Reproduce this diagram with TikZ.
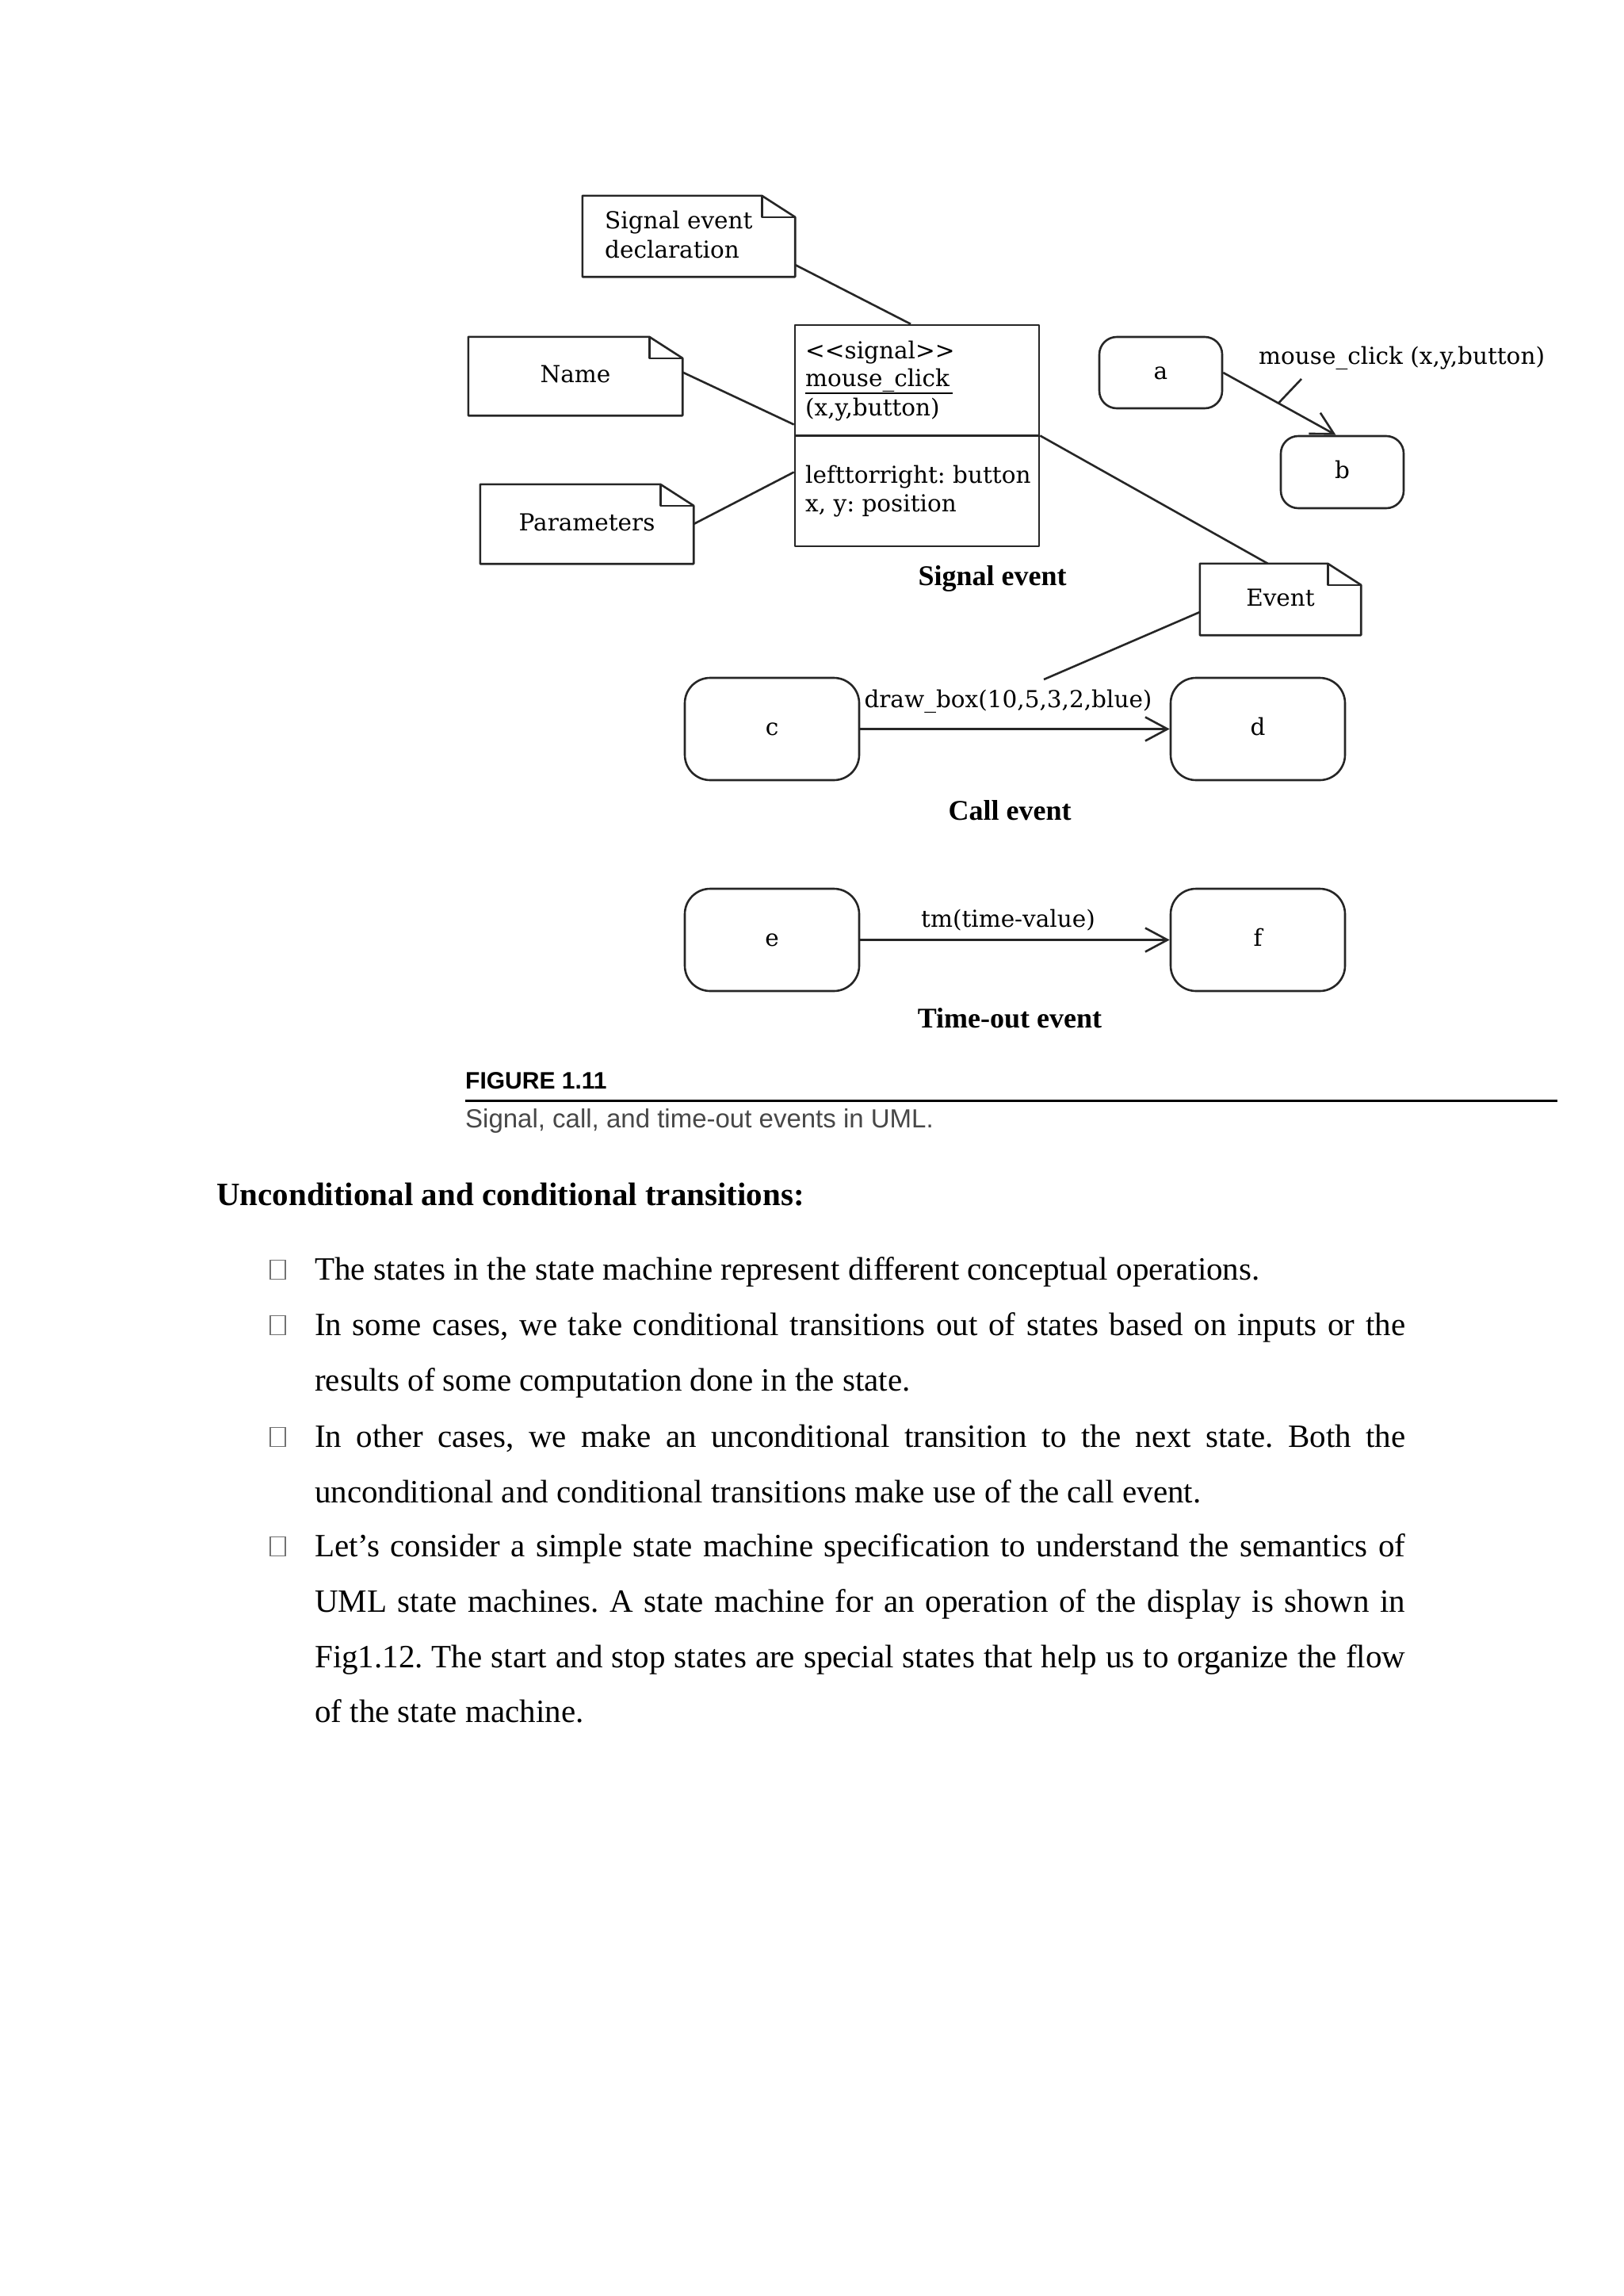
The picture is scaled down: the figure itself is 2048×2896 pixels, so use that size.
\documentclass[tikz,border=0pt]{standalone}
\usepackage{fontspec}
\setmainfont{Liberation Serif}
\newfontfamily\capsans{Liberation Sans}
\newfontfamily\diagfont{DejaVu Serif}
\usetikzlibrary{arrows.meta}
\newcommand\umlnote[1]{%
  \draw[ln] ([xshift=-42pt]#1.north east) -- (#1.north west) -- (#1.south west) -- (#1.south east) -- ([yshift=-27pt]#1.north east) -- cycle;
  \draw[ln] ([xshift=-42pt]#1.north east) -- ([xshift=-42pt,yshift=-27pt]#1.north east) -- ([yshift=-27pt]#1.north east);}
\begin{document}
\frenchspacing
\begin{tikzpicture}[x=1pt,y=-1pt,
  ln/.style={draw=black!85,line width=2.6pt,line join=round},
  dfont/.style={font=\diagfont\fontsize{29.5}{36}\selectfont},
  txt/.style={inner sep=0pt,text height=22pt,text depth=6pt,dfont},
  notebox/.style={rectangle,inner sep=0pt,draw=none,txt},
  state/.style={rectangle,rounded corners=22pt,ln,inner sep=0pt,txt},
  bigstate/.style={state,rounded corners=32pt,minimum width=220pt,minimum height=129pt},
  arr/.style={ln,-{Straight Barb[length=28pt,width=30pt]}},
  capt/.style={inner sep=0pt,text height=25pt,text depth=8pt,font=\fontsize{36}{42}\selectfont\bfseries},
  body/.style={inner sep=0pt,anchor=base west,font=\fontsize{41}{48}\selectfont},
  bul/.style={draw=black!55,line width=1.5pt,minimum width=19pt,minimum height=24pt,inner sep=0pt,anchor=south west}
]
\useasboundingbox[fill=white] (0,0) rectangle (2048,2896);

% ---- notes
\node[notebox,minimum width=268pt,minimum height=102pt] (decl) at (869,298) {};
\umlnote{decl}
\node[txt,anchor=west] (decl1) at (763,280) {Signal event};
\node[txt,anchor=west] (decl2) at (763,317) {declaration};

\node[notebox,minimum width=270pt,minimum height=99pt] (name) at (726,474.5) {Name};
\umlnote{name}
\node[notebox,minimum width=269pt,minimum height=100pt] (params) at (740.5,661) {Parameters};
\umlnote{params}
\node[notebox,minimum width=203pt,minimum height=90pt] (event) at (1615.5,756) {Event};
\umlnote{event}

% ---- signal class
\node[rectangle,ln,inner sep=0pt,minimum width=308pt,minimum height=279pt] (sig) at (1157,549.5) {};
\draw[ln] (sig.west) -- (sig.east);
\node[txt,anchor=west] (s1) at (1016,444) {<{}<signal>{}>};
\node[txt,anchor=west] (s2) at (1016,479) {mouse\_click};
\draw[line width=2.4pt] ([yshift=-9pt]s2.base west) -- ([yshift=-9pt,xshift=4pt]s2.base east);
\node[txt,anchor=west] (s3) at (1016,516) {(x,y,button)};
\node[txt,anchor=west] (s4) at (1016,601) {lefttorright: button};
\node[txt,anchor=west] (s5) at (1016,637) {x, y: position};

% ---- connectors of signal part
\draw[ln] ([yshift=-36pt]decl.east) -- ([xshift=-8pt]sig.north);
\draw[ln] ([yshift=5pt]name.east) -- ([yshift=14pt]sig.west);
\draw[ln] (params.east) -- ([yshift=-46pt]sig.west);
\draw[ln] (sig.east) -- ([xshift=-16pt]event.north);

% ---- states a, b
\node[state,minimum width=155pt,minimum height=90pt] (a) at (1464.5,470) {a};
\node[state,minimum width=155pt,minimum height=91pt] (b) at (1693.5,595.5) {b};
\draw[arr] (a.east) -- coordinate[pos=0.49] (lead) ([xshift=-8pt]b.north);
\node[txt,anchor=west] (mclbl) at (1588,451) {mouse\_click (x,y,button)};
\coordinate (leadtop) at (1642,478);
\draw[ln] (leadtop) -- (lead);

\node[capt] (sigcap) at (1252,730) {Signal event};

% ---- call event
\node[bigstate] (c) at (974,919.5) {c};
\node[bigstate] (d) at (1587,919.5) {d};
\draw[arr] (c.east) -- (d.west);
\node[txt] (callbl) at (1272,884) {draw\_box(10,5,3,2,blue)};
\coordinate (callpt) at (1317,857);
\draw[ln] ([yshift=-16pt]event.west) -- (callpt);
\node[capt] (callcap) at (1274,1026) {Call event};

% ---- time-out event
\node[bigstate] (e) at (974,1185.5) {e};
\node[bigstate] (f) at (1587,1185.5) {f};
\draw[arr] (e.east) -- (f.west);
\node[txt] (tmlbl) at (1272,1161) {tm(time-value)};
\node[capt] (tmcap) at (1274,1288) {Time-out event};

% ---- figure caption
\node[inner sep=0pt,anchor=base west,font=\capsans\fontsize{30}{34}\selectfont\bfseries] (fig) at (587,1373) {FIGURE 1.11};
\coordinate (rl) at (587,1388);
\coordinate (rr) at (1965,1388);
\draw[line width=3pt] (rl) -- (rr);
\node[inner sep=0pt,anchor=base west,text=black!72,font=\capsans\fontsize{33}{38}\selectfont] (figcap) at (587,1422) {Signal, call, and time-out events in UML.};

% ---- body text
\node[body] (head) at (273,1520) {\bfseries Unconditional and conditional transitions:};
\node[body] (l1) at (397,1614) {The states in the state machine represent different conceptual operations.};
\node[body] (l2) at (397,1684) {\makebox[1376pt][s]{In some cases, we take conditional transitions out of states based on inputs or the}};
\node[body] (l3) at (397,1754) {results of some computation done in the state.};
\node[body] (l4) at (397,1825) {\makebox[1376pt][s]{In other cases, we make an unconditional transition to the next state. Both the}};
\node[body] (l5) at (397,1895) {unconditional and conditional transitions make use of the call event.};
\node[body] (l6) at (397,1963) {\makebox[1376pt][s]{Let’s consider a simple state machine specification to understand the semantics of}};
\node[body] (l7) at (397,2033) {\makebox[1376pt][s]{UML state machines. A state machine for an operation of the display is shown in}};
\node[body] (l8) at (397,2103) {\makebox[1376pt][s]{Fig1.12. The start and stop states are special states that help us to organize the flow}};
\node[body] (l9) at (397,2172) {of the state machine.};

\node[bul] (b1) at (340,1614) {};
\node[bul] (b2) at (340,1684) {};
\node[bul] (b4) at (340,1825) {};
\node[bul] (b6) at (340,1963) {};
\end{tikzpicture}
\end{document}
